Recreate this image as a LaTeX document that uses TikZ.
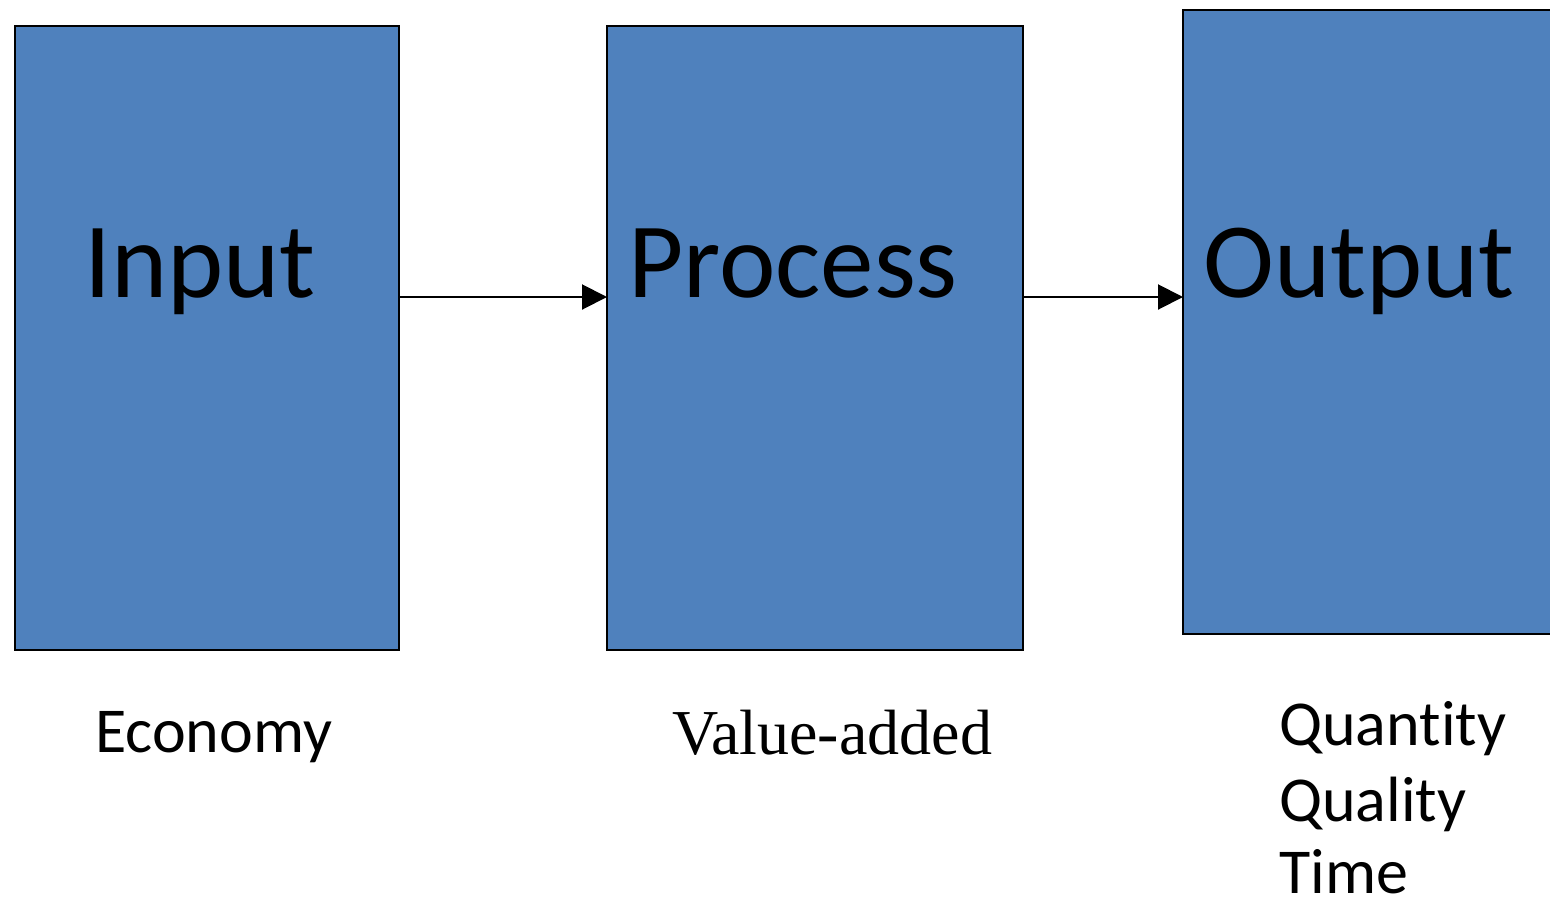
\documentclass[tikz,border=0pt]{standalone}
\usepackage{fontspec}
\setmainfont{Carlito}[Ligatures={NoCommon}]
\newfontfamily\serifface{Liberation Serif}
\usetikzlibrary{arrows.meta}
\definecolor{boxblue}{HTML}{4F81BD}
\tikzset{
  stage/.style={draw=black, line width=2pt, fill=boxblue, anchor=north west, inner sep=0pt, minimum height=624pt},
  flow/.style={line width=2pt, -{Triangle[length=25pt,width=25pt]}},
  title/.style={anchor=base west, inner sep=0pt, font=\fontsize{107}{110}\selectfont},
  caption/.style={anchor=base west, inner sep=0pt, font=\fontsize{64}{75}\selectfont},
}
\begin{document}
\begin{tikzpicture}[x=1pt, y=-1pt]
  \useasboundingbox (0,0) rectangle (1550,900);
  \clip (0,0) rectangle (1550,900);
  % the three stages
  \node[stage, minimum width=384pt] (inbox) at (14,25) {};
  \node[stage, minimum width=416pt] (procbox) at (606,25) {};
  \node[stage, minimum width=400pt] (outbox) at (1182,9) {};
  % stage titles
  \node[title] (intitle) at (84,297) {Input};
  \node[title] (proctitle) at (628,297) {Process};
  \node[title] (outtitle) at (1203,297) {Output};
  % flow between stages
  \coordinate (a1) at (399,297);
  \coordinate (b1) at (607,297);
  \coordinate (a2) at (1023,297);
  \coordinate (b2) at (1183,297);
  \draw[flow] (a1) -- (b1);
  \draw[flow] (a2) -- (b2);
  % measures under each stage
  \node[caption] (econ) at (95,752) {Economy};
  \node[anchor=base west, inner sep=0pt, font=\serifface\fontsize{64}{75}\selectfont] (value) at (672,754) {Value-added};
  \node[caption] (qty) at (1279,745) {Quantity};
  \node[caption] (qual) at (1279,821) {Quality};
  \node[caption] (time) at (1279,893) {Time};
\end{tikzpicture}
\end{document}
